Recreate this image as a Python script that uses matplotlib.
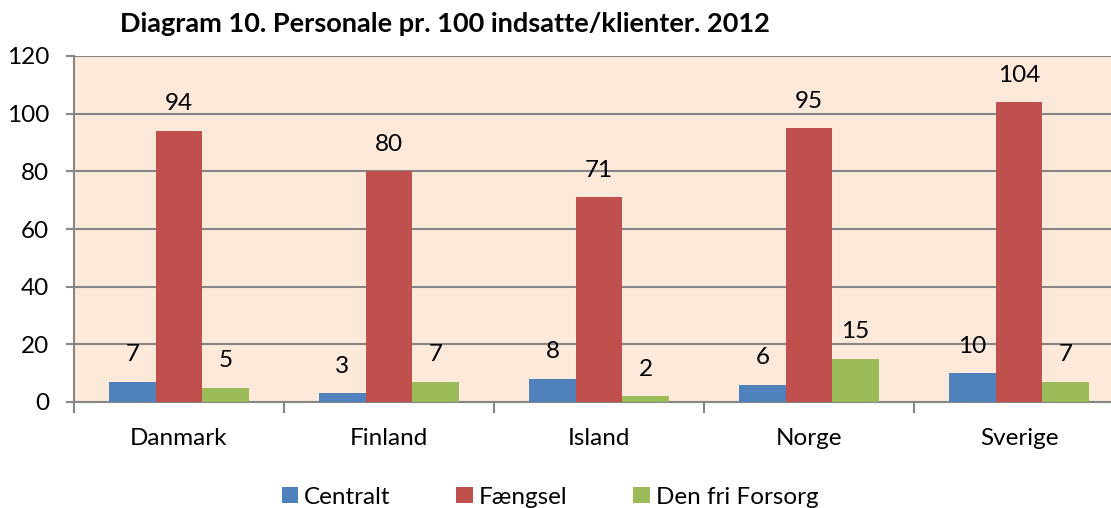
import matplotlib.pyplot as plt
import numpy as np

plt.rcParams['font.family'] = ['Lato', 'DejaVu Sans']

# data
countries = ["Danmark", "Finland", "Island", "Norge", "Sverige"]
centralt = [7, 3, 8, 6, 10]
faengsel = [94, 80, 71, 95, 104]
den_fri = [5, 7, 2, 15, 7]
series_names = ["Centralt", "Fængsel", "Den fri Forsorg"]
colors = ["#4F81BD", "#C0504D", "#9BBB59"]

fig = plt.figure(figsize=(11.11, 5.08), dpi=100)
ax = fig.add_axes([74 / 1111, 1 - 402 / 508, 1050 / 1111, 346 / 508])
ax.set_facecolor("#FDE9D9")

x = np.arange(len(countries))
w = 0.222
grid_col = "#868686"

for i, (vals, name, col) in enumerate(zip([centralt, faengsel, den_fri], series_names, colors)):
    bars = ax.bar(x + (i - 1) * w, vals, w, color=col, label=name, zorder=3)
    for b, v in zip(bars, vals):
        ax.annotate(str(v), (b.get_x() + b.get_width() / 2, v), xytext=(0, 19.5),
                    textcoords="offset points", ha="center", va="center",
                    fontsize=17.5, color="black", zorder=4)

ax.set_xlim(-0.5, len(countries) - 0.5)
ax.set_ylim(0, 120)
ax.set_yticks(range(0, 121, 20))
ax.yaxis.grid(True, color=grid_col, linewidth=1.5, zorder=1)
ax.set_axisbelow(True)

for s in ["top", "right"]:
    ax.spines[s].set_visible(False)
ax.spines["left"].set_color(grid_col)
ax.spines["bottom"].set_color(grid_col)
ax.spines["left"].set_linewidth(1.5)
ax.spines["bottom"].set_linewidth(1.5)

ax.tick_params(axis="y", labelsize=17.5, length=6, width=1.5, color=grid_col, pad=12)
ax.set_xticks(x)
ax.set_xticklabels(countries, fontsize=17.5)
ax.tick_params(axis="x", length=0, pad=19)
ax.set_xticks(np.arange(-0.5, len(countries), 1), minor=True)
ax.tick_params(axis="x", which="minor", length=8, width=1.5, color=grid_col)

fig.text(445 / 1111, 1 - 24 / 508, "Diagram 10. Personale pr. 100 indsatte/klienter. 2012",
         ha="center", va="center", fontsize=19.5, fontweight="bold")

fig.legend(loc="center", bbox_to_anchor=(550 / 1111, 1 - 497 / 508), ncol=3,
           frameon=False, fontsize=17.5, handlelength=0.68, handleheight=0.68,
           handletextpad=0.25, columnspacing=2.7)

fig.savefig("out.png", dpi=100)
